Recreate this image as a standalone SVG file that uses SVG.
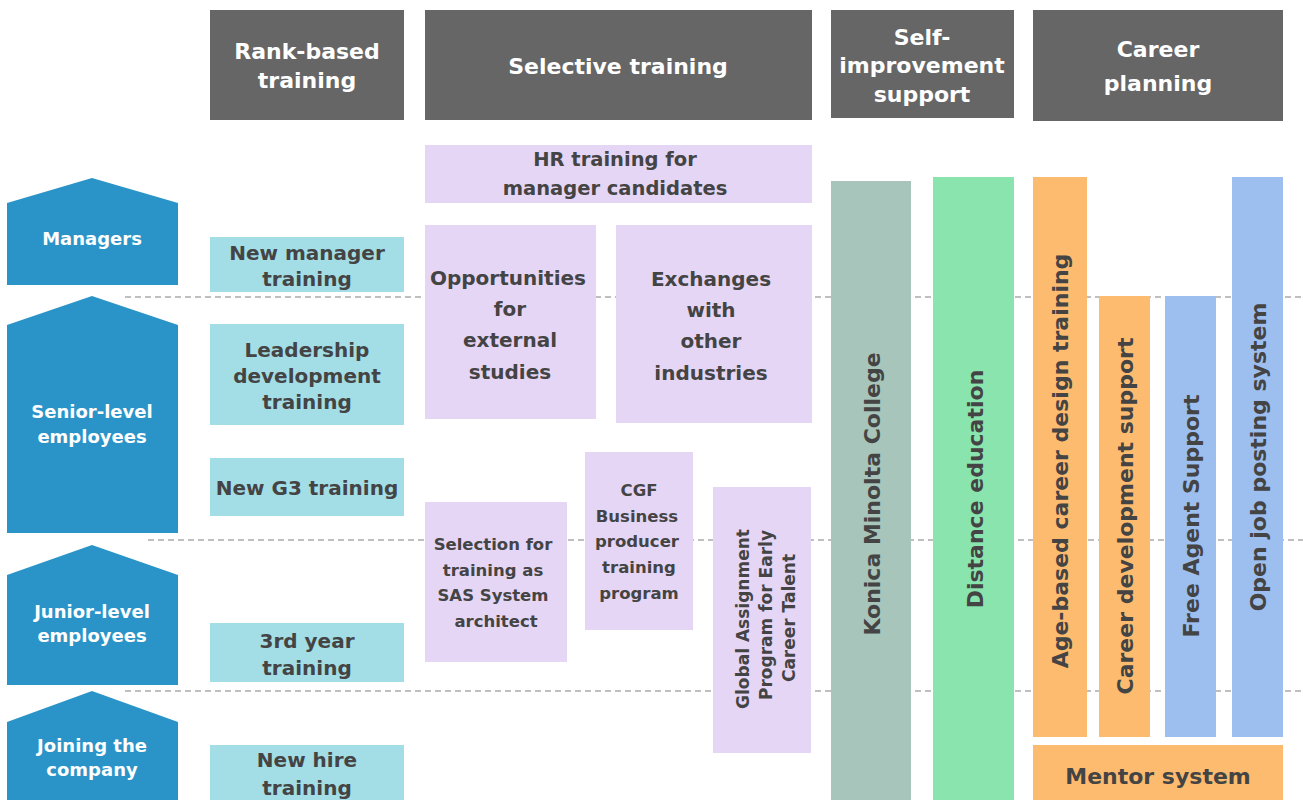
<svg xmlns="http://www.w3.org/2000/svg" width="1303" height="800" viewBox="0 0 1303 800">
<style>
text{font-family:"DejaVu Sans","Noto Sans",sans-serif;font-weight:700;text-anchor:middle}
.hd{fill:#666666}
.ht{fill:#ffffff;font-size:22px}
.ar{fill:#2a94c8}
.at{fill:#ffffff;font-size:18px}
.rk{fill:#a3dde6}
.sl{fill:#e6d6f6}
.tx{fill:#444444}
.t20{font-size:20px}
.t19{font-size:19.5px}
.t16{font-size:16.5px}
.t15{font-size:17px}
.tv{font-size:22px}
.t22{font-size:22px}
.dash{stroke:#aaaaaa;stroke-width:1.3;stroke-dasharray:6 4;fill:none}
</style>
<rect width="1303" height="800" fill="#ffffff"/>
<g id="connectors">
<line class="dash" x1="125" y1="297" x2="1303" y2="297"/>
<line class="dash" x1="148" y1="540" x2="1303" y2="540"/>
<line class="dash" x1="125" y1="691" x2="1303" y2="691"/>
</g>
<g id="hdr-rank"><rect class="hd" x="210" y="10" width="194" height="110"/><text class="ht" x="307" y="59">Rank-based</text><text class="ht" x="307" y="88">training</text></g>
<g id="hdr-selective"><rect class="hd" x="425" y="10" width="387" height="110"/><text class="ht" x="618" y="74">Selective training</text></g>
<g id="hdr-self"><rect class="hd" x="831" y="10" width="183" height="108"/><text class="ht" x="922" y="45">Self-</text><text class="ht" x="922" y="73">improvement</text><text class="ht" x="922" y="102">support</text></g>
<g id="hdr-career"><rect class="hd" x="1033" y="10" width="250" height="111"/><text class="ht" x="1158" y="57">Career</text><text class="ht" x="1158" y="91">planning</text></g>

<g id="lvl-managers"><polygon class="ar" points="7,203 92,178 178,203 178,285 7,285"/><text class="at" x="92" y="245">Managers</text></g>
<g id="lvl-senior"><polygon class="ar" points="7,325 92,296 178,325 178,533 7,533"/><text class="at" x="92" y="418">Senior-level</text><text class="at" x="92" y="443">employees</text></g>
<g id="lvl-junior"><polygon class="ar" points="7,575 92,545 178,575 178,685 7,685"/><text class="at" x="92" y="618">Junior-level</text><text class="at" x="92" y="642">employees</text></g>
<g id="lvl-joining"><polygon class="ar" points="7,722 92,691 178,722 178,805 7,805"/><text class="at" x="92" y="752">Joining the</text><text class="at" x="92" y="776">company</text></g>

<g id="r-newmgr"><rect class="rk" x="210" y="237" width="194" height="55"/><text class="tx t20" x="307" y="260">New manager</text><text class="tx t20" x="307" y="286">training</text></g>
<g id="r-leader"><rect class="rk" x="210" y="324" width="194" height="101"/><text class="tx t20" x="307" y="357">Leadership</text><text class="tx t20" x="307" y="383">development</text><text class="tx t20" x="307" y="409">training</text></g>
<g id="r-g3"><rect class="rk" x="210" y="458" width="194" height="58"/><text class="tx t20" x="307" y="495">New G3 training</text></g>
<g id="r-3rd"><rect class="rk" x="210" y="623" width="194" height="59"/><text class="tx t20" x="307" y="648">3rd year</text><text class="tx t20" x="307" y="675">training</text></g>
<g id="r-newhire"><rect class="rk" x="210" y="745" width="194" height="60"/><text class="tx t20" x="307" y="767">New hire</text><text class="tx t20" x="307" y="795">training</text></g>

<g id="s-hr"><rect class="sl" x="425" y="145" width="387" height="58"/><text class="tx t19" x="615" y="166">HR training for</text><text class="tx t19" x="615" y="195">manager candidates</text></g>
<g id="s-external"><rect class="sl" x="425" y="225" width="171" height="194"/><text class="tx t20" x="508" y="285">Opportunities</text><text class="tx t20" x="510" y="316">for</text><text class="tx t20" x="510" y="347">external</text><text class="tx t20" x="510" y="379">studies</text></g>
<g id="s-exchange"><rect class="sl" x="616" y="225" width="196" height="198"/><text class="tx t20" x="711" y="286">Exchanges</text><text class="tx t20" x="711" y="317">with</text><text class="tx t20" x="711" y="348">other</text><text class="tx t20" x="711" y="380">industries</text></g>
<g id="s-sas"><rect class="sl" x="425" y="502" width="142" height="160"/><text class="tx t16" x="493" y="550">Selection for</text><text class="tx t16" x="493" y="576">training as</text><text class="tx t16" x="493" y="601">SAS System</text><text class="tx t16" x="496" y="627">architect</text></g>
<g id="s-cgf"><rect class="sl" x="585" y="452" width="108" height="178"/><text class="tx t16" x="639" y="496">CGF</text><text class="tx t16" x="637" y="522">Business</text><text class="tx t16" x="637" y="547">producer</text><text class="tx t16" x="639" y="573">training</text><text class="tx t16" x="639" y="599">program</text></g>
<g id="s-global"><rect class="sl" x="713" y="487" width="98" height="266"/><g transform="translate(767,619) rotate(-90)"><text class="tx t15" x="0" y="-18">Global Assignment</text><text class="tx t15" x="4" y="5">Program for Early</text><text class="tx t15" x="1" y="28">Career Talent</text></g></g>

<g id="c-konica"><rect x="831" y="181" width="80" height="624" fill="#a7c5ba"/><text class="tx tv" transform="translate(880,494) rotate(-90)">Konica Minolta College</text></g>
<g id="c-distance"><rect x="933" y="177" width="81" height="628" fill="#8ae4ae"/><text class="tx tv" transform="translate(983,489) rotate(-90)">Distance education</text></g>
<g id="c-age"><rect x="1033" y="177" width="54" height="560" fill="#fdbb6f"/><text class="tx tv" transform="translate(1068,461) rotate(-90)">Age-based career design training</text></g>
<g id="c-cdev"><rect x="1099" y="296" width="51" height="441" fill="#fdbb6f"/><text class="tx tv" transform="translate(1133,516) rotate(-90)">Career development support</text></g>
<g id="c-free"><rect x="1165" y="296" width="51" height="441" fill="#9cbff0"/><text class="tx tv" transform="translate(1199,516) rotate(-90)">Free Agent Support</text></g>
<g id="c-open"><rect x="1232" y="177" width="51" height="560" fill="#9cbff0"/><text class="tx tv" transform="translate(1266,457) rotate(-90)">Open job posting system</text></g>
<g id="c-mentor"><rect x="1033" y="745" width="250" height="60" fill="#fdbb6f"/><text class="tx t22" x="1158" y="784">Mentor system</text></g>
</svg>
